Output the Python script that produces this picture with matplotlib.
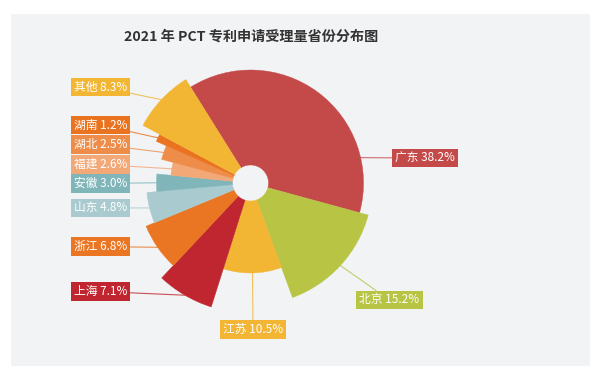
import numpy as np
import matplotlib
matplotlib.use('Agg')
import matplotlib.pyplot as plt
from matplotlib.patches import Rectangle

plt.rcParams['font.family'] = ['Noto Sans CJK SC', 'DejaVu Sans']

# data
provinces = ['广东', '北京', '江苏', '上海', '浙江', '山东', '安徽', '福建', '湖北', '湖南', '其他']
shares = [38.2, 15.2, 10.5, 7.1, 6.8, 4.8, 3.0, 2.6, 2.5, 1.2, 8.3]
# rose length of each slice (chart units, hole at 18)
rose_len = [113, 122, 90, 130, 113, 104, 94, 80, 92, 103, 122]
colors = ['#C44A4A', '#B8C444', '#F2B534', '#C0262F', '#EA7522', '#A9CBD0',
          '#80B5BA', '#F3A877', '#EE8D4A', '#EA7320', '#F2B534']

W, H = 601, 375
fig = plt.figure(figsize=(W / 100, H / 100), dpi=100)
fig.patch.set_facecolor('white')
fig.add_artist(Rectangle((11 / W, 9 / H), 579 / W, 352 / H, transform=fig.transFigure,
                         fc='#F2F3F5', ec='none', zorder=0))

fig.text(251.5 / W, 1 - 37 / H, '2021 年 PCT 专利申请受理量省份分布图', ha='center', va='center',
         fontsize=10.2, fontweight='bold', color='#333333')

# polar axes, 1 unit = 1 px, centre at (250.5, 183) from top-left
R = 140
cx, cy = 250.5, 183
ax = fig.add_axes([(cx - R) / W, (H - cy - R) / H, 2 * R / W, 2 * R / H], projection='polar')
ax.set_theta_direction(-1)
ax.set_theta_offset(np.deg2rad(122))
ax.set_ylim(0, R)
ax.set_axis_off()
ax.patch.set_alpha(0)

hole = 18
widths = np.array(shares) / sum(shares) * 2 * np.pi
lefts = np.concatenate([[0], np.cumsum(widths)[:-1]])
heights = np.array(rose_len) - hole
ax.bar(lefts, heights, width=widths, bottom=hole, align='edge', color=colors,
       edgecolor=colors, linewidth=0.3, zorder=3)

# label boxes: (x, y from top, ha)
label_pos = [(425, 158, 'center'), (389.5, 300, 'center'), (253, 329.5, 'center'),
             (127, 291.5, 'right'), (127, 246.5, 'right'), (127, 208, 'right'),
             (127, 183.5, 'right'), (127, 164.5, 'right'), (127, 144.5, 'right'),
             (127, 125, 'right'), (127, 87, 'right')]

mids = lefts + widths / 2
for i in range(len(provinces)):
    x, y, ha = label_pos[i]
    ang = mids[i]
    r = rose_len[i]
    if i == 0:
        # guangdong line leaves the right edge horizontally
        ang = np.deg2rad(122 - 14)
        r = 105
    ax.annotate('%s %.1f%%' % (provinces[i], shares[i]), xy=(ang, r), xycoords='data',
                xytext=(x, H - y), textcoords='figure pixels', ha=ha, va='center',
                fontsize=8.5, color='white', zorder=1,
                bbox=dict(boxstyle='square,pad=0.25', fc=colors[i], ec='none'),
                arrowprops=dict(arrowstyle='-', color=colors[i], lw=0.8, alpha=0.8,
                                shrinkA=0, shrinkB=0))

fig.savefig('out.png', dpi=100)
